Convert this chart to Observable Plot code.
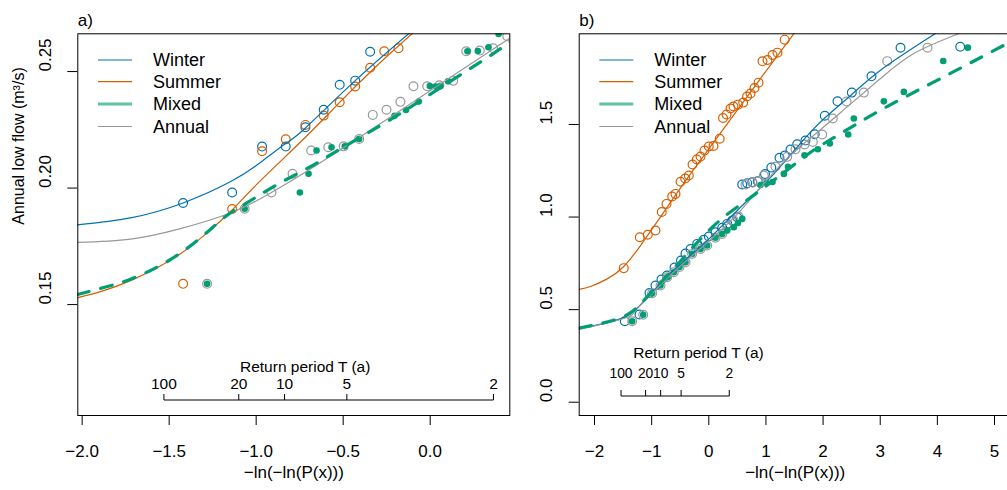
<!DOCTYPE html>
<html><head><meta charset="utf-8">
<script src="https://cdn.jsdelivr.net/npm/d3@7"></script>
<script src="https://cdn.jsdelivr.net/npm/@observablehq/plot@0.6"></script>
<style>
html,body{margin:0;padding:0;background:#fff;overflow:hidden;}
#wrap{position:relative;width:1007px;height:490px;overflow:hidden;background:#fff;}
#wrap svg{position:absolute;top:0;}
</style></head><body><div id="wrap"></div>
<script>
const FONT = '"Liberation Sans", Arial, Helvetica, sans-serif';
const COL = {Winter:"#0072B2", Summer:"#D55E00", Mixed:"#009E73", Annual:"#999999"};
const legendKeyMixed = "#5fc4a0";
const seriesNames = ["Winter","Summer","Mixed","Annual"];
const returnPeriods = [100, 20, 10, 5, 2];

// ---- Panel a: sample points ----
const aWinterX = [-1.420,-1.138,-0.966,-0.830,-0.717,-0.612,-0.520,-0.431,-0.345];
const aWinterY = [0.1936,0.1981,0.2178,0.2178,0.2261,0.2336,0.2443,0.2461,0.2585];
const aSummerX = [-1.420,-1.138,-0.966,-0.830,-0.717,-0.612,-0.520,-0.431,-0.345,-0.264,-0.182];
const aSummerY = [0.1589,0.1910,0.2158,0.2209,0.2271,0.2311,0.2368,0.2436,0.2516,0.2587,0.2600];
const aAnnualX = [-1.282,-1.066,-0.912,-0.791,-0.684,-0.586,-0.497,-0.408,-0.330,-0.251,-0.171,-0.096,-0.017,0.053,0.132,0.207,0.285,0.362,0.443];
const aAnnualY = [0.1589,0.1911,0.1981,0.2061,0.2161,0.2175,0.2179,0.2211,0.2314,0.2336,0.2370,0.2437,0.2437,0.2441,0.2460,0.2587,0.2590,0.2600,0.2652];
const aMixedX = [-1.282,-1.066,-0.749,-0.699,-0.653,-0.567,-0.491,-0.408,-0.205,-0.139,-0.066,-0.002,0.031,0.059,0.103,0.214,0.274,0.335,0.393];
const aMixedY = [0.1589,0.1911,0.1981,0.2061,0.2161,0.2175,0.2179,0.2211,0.2310,0.2335,0.2371,0.2438,0.2436,0.2439,0.2458,0.2587,0.2588,0.2604,0.2661];
// ---- Panel a: fitted curves ----
const aWinterFitX = [-2.027,-1.722,-1.420,-1.138,-0.966,-0.830,-0.717,-0.431,-0.113];
const aWinterFitY = [0.1842,0.1872,0.1936,0.2031,0.2115,0.2191,0.2258,0.2461,0.2669];
const aSummerFitX = [-2.029,-1.876,-1.722,-1.569,-1.435,-1.301,-1.138,-0.994,-0.717,-0.520,-0.305,-0.094];
const aSummerFitY = [0.1529,0.1560,0.1603,0.1658,0.1718,0.1796,0.1906,0.2018,0.2218,0.2368,0.2526,0.2669];
const aMixedFitX = [-2.027,-1.876,-1.722,-1.569,-1.435,-1.301,-1.176,-1.061,-0.889,-0.688,-0.498,-0.228,0.059,0.328,0.462];
const aMixedFitY = [0.1543,0.1573,0.1609,0.1661,0.1721,0.1798,0.1878,0.1933,0.2011,0.2092,0.2176,0.2294,0.2431,0.2560,0.2629];
const aAnnualFitX = [-2.027,-1.722,-1.435,-1.142,-0.912,-0.688,-0.408,-0.152,0.132,0.462];
const aAnnualFitY = [0.1767,0.1781,0.1826,0.1895,0.1981,0.2082,0.2217,0.2343,0.2483,0.2646];

// ---- Panel b: sample points ----
const bSummerX = [-1.488,-1.208,-1.068,-0.933,-0.823,-0.740,-0.641,-0.583,-0.495,-0.413,-0.350,-0.285,-0.210,-0.145,-0.075,0.000,0.082,0.191,0.249,0.310,0.380,0.432,0.511,0.602,0.669,0.730,0.800,0.870,0.940,1.027,1.115,1.202,1.328];
const bSummerY = [0.724,0.891,0.904,0.927,1.027,1.071,1.111,1.125,1.191,1.208,1.224,1.284,1.311,1.327,1.359,1.381,1.384,1.423,1.535,1.554,1.586,1.597,1.607,1.618,1.651,1.667,1.697,1.726,1.841,1.848,1.875,1.888,1.958];
const bWinterX = [-1.470,-1.213,-1.038,-0.933,-0.828,-0.732,-0.600,-0.487,-0.408,-0.320,-0.203,-0.088,0.000,0.117,0.235,0.322,0.410,0.497,0.585,0.672,0.760,0.856,0.984,1.094,1.237,1.330,1.430,1.547,1.692,1.853,2.030,2.252,2.503,2.847,3.355,4.400];
const bWinterY = [0.437,0.474,0.590,0.630,0.663,0.684,0.727,0.765,0.803,0.827,0.855,0.877,0.895,0.918,0.942,0.963,0.981,0.999,1.176,1.183,1.188,1.193,1.232,1.267,1.320,1.332,1.365,1.393,1.413,1.447,1.547,1.625,1.672,1.760,1.914,1.920];
const bAnnualX = [-1.341,-1.148,-0.991,-0.845,-0.728,-0.613,-0.513,-0.408,-0.291,-0.145,-0.028,0.117,0.235,0.322,0.438,0.520,0.642,0.765,0.870,0.963,1.167,1.372,1.517,1.675,1.820,1.985,2.170,2.410,2.713,3.122,3.827];
const bAnnualY = [0.437,0.472,0.589,0.630,0.675,0.702,0.730,0.756,0.801,0.828,0.846,0.888,0.909,0.949,0.981,1.003,1.176,1.186,1.192,1.224,1.273,1.325,1.366,1.392,1.406,1.446,1.532,1.624,1.672,1.842,1.914];
const bMixedX = [-1.341,-1.148,-0.991,-0.845,-0.728,-0.613,-0.513,-0.408,-0.291,-0.145,-0.028,0.117,0.235,0.322,0.438,0.511,0.585,0.905,1.010,1.115,1.313,1.386,1.675,1.908,2.118,2.440,2.538,3.063,3.413,4.102,4.533];
const bMixedY = [0.437,0.472,0.589,0.630,0.675,0.702,0.730,0.756,0.801,0.828,0.846,0.888,0.909,0.927,0.945,0.968,0.990,1.173,1.184,1.189,1.233,1.271,1.334,1.366,1.397,1.446,1.532,1.625,1.676,1.843,1.915];
// ---- Panel b: fitted curves ----
const bWinterFitX = [-2.268,-1.866,-1.488,-1.300,-1.078,-0.613,-0.028,0.555,1.138,1.838,2.422,3.005,3.967];
const bWinterFitY = [0.398,0.423,0.457,0.493,0.565,0.711,0.873,1.053,1.233,1.478,1.640,1.793,1.991];
const bSummerFitX = [-2.268,-2.070,-1.778,-1.488,-1.195,-0.903,-0.613,-0.320,0.235,0.905,1.517];
const bSummerFitY = [0.609,0.625,0.666,0.733,0.846,0.975,1.105,1.233,1.467,1.748,2.002];
const bMixedFitX = [-2.268,-1.488,-1.078,-0.613,0.060,0.642,1.080,1.460,1.838,2.275,3.005,3.967,5.228];
const bMixedFitY = [0.401,0.463,0.570,0.722,0.945,1.086,1.186,1.275,1.362,1.445,1.577,1.734,1.938];
const bAnnualFitX = [-2.268,-1.488,-1.300,-1.078,-0.613,-0.028,0.555,1.255,1.838,2.422,3.005,3.588,4.382];
const bAnnualFitY = [0.393,0.452,0.488,0.560,0.703,0.862,1.035,1.280,1.442,1.595,1.748,1.883,1.991];

const pts = (xs, ys) => xs.map((x, i) => ({x, y: ys[i]}));
const gumbel = T => -Math.log(-Math.log(1 / T));

function panel(cfg) {
  const s = cfg.series;
  const lineMarks = ["Winter","Summer","Annual"].map(k =>
    Plot.line(pts(s[k].fx, s[k].fy), {x:"x", y:"y", stroke: COL[k], strokeWidth: 1.2, curve:"natural", clip:true}));
  const mixedLine = Plot.line(pts(s.Mixed.fx, s.Mixed.fy), {x:"x", y:"y", stroke: COL.Mixed, strokeWidth: 3.2,
    strokeDasharray: "12,12", strokeLinecap: "round", curve:"natural", clip:true});
  const circleMarks = ["Winter","Summer","Annual"].map(k =>
    Plot.dot(pts(s[k].px, s[k].py), {x:"x", y:"y", r: 4.4, stroke: COL[k], strokeWidth: 1.2, fill:"none", clip:true}));
  const mixedDots = Plot.dot(pts(s.Mixed.px, s.Mixed.py), {x:"x", y:"y", r: 3.3, fill: COL.Mixed, stroke:"none", clip:true});

  const chart = Plot.plot({
    width: cfg.width, height: 490,
    marginLeft: cfg.ml, marginRight: cfg.mr, marginTop: 33.3, marginBottom: 75,
    x: {domain: cfg.xDomain}, y: {domain: cfg.yDomain},
    style: {fontFamily: FONT, fontSize: "17px", background: "white", color: "black", overflow: "visible"},
    marks: [
      Plot.axisX({ticks: cfg.xTicks, tickSize: 10, tickPadding: 19, tickFormat: cfg.xFmt, label: null, fontSize: 17}),
      Plot.axisY({ticks: cfg.yTicks, tickSize: 10, tickFormat: () => "", label: null}),
      Plot.text(cfg.yTicks, {y: d => d, frameAnchor: "left", dx: cfg.ytdx, rotate: -90, text: cfg.yFmt, fontSize: 17}),
      Plot.text(["\u2212ln(\u2212ln(P(x)))"], {frameAnchor: "bottom", dy: 62, fontSize: 17}),
      ...(cfg.ylab ? [Plot.text([cfg.ylab], {frameAnchor: "left", dx: -59, rotate: -90, fontSize: 16})] : []),
      Plot.text([cfg.tag], {frameAnchor: "top-left", dy: -20, textAnchor: "start", fontSize: 17}),
      ...circleMarks, mixedDots,
      ...lineMarks, mixedLine,
      Plot.frame({stroke: "black", strokeWidth: 1})
    ]
  });

  const svg = d3.select(chart);
  // return period axis, placed with the chart's own x scale
  const sx = chart.scale("x");
  const rx = returnPeriods.map(T => sx.apply(gumbel(T)));
  const g = svg.append("g").attr("font-family", FONT).attr("fill", "black");
  g.append("line").attr("x1", rx[0]).attr("x2", rx[rx.length - 1])
    .attr("y1", cfg.rpBase).attr("y2", cfg.rpBase).attr("stroke", "black");
  rx.forEach((x, i) => {
    g.append("line").attr("x1", x).attr("x2", x).attr("y1", cfg.rpBase).attr("y2", cfg.rpBase - 6).attr("stroke", "black");
    g.append("text").attr("x", x).attr("y", cfg.rpLab).attr("dy", "0.35em").attr("text-anchor", "middle")
      .attr("font-size", cfg.rpFont).text(returnPeriods[i]);
  });
  g.append("text").attr("x", cfg.rpTitleX).attr("y", cfg.rpTitleY).attr("dy", "0.35em")
    .attr("text-anchor", "start").attr("font-size", 15.5).text("Return period T (a)");

  // legend
  const lg = svg.append("g").attr("font-family", FONT);
  const rows = [60, 81.7, 104, 126.5];
  seriesNames.forEach((k, i) => {
    lg.append("line").attr("x1", cfg.legX).attr("x2", cfg.legX + 34).attr("y1", rows[i]).attr("y2", rows[i])
      .attr("stroke", k === "Mixed" ? legendKeyMixed : COL[k]).attr("stroke-width", k === "Mixed" ? 3 : 1.2);
    lg.append("text").attr("x", cfg.legX + 55).attr("y", rows[i]).attr("dy", "0.35em")
      .attr("text-anchor", "start").attr("font-size", 18).attr("fill", "black").text(k);
  });

  chart.style.left = cfg.left + "px";
  document.getElementById("wrap").appendChild(chart);
}

panel({
  left: 0, width: 520, ml: 77.3, mr: 10.7,
  xDomain: [-2.025, 0.4575], yDomain: [0.1024, 0.2662],
  xTicks: [-2, -1.5, -1, -0.5, 0], xFmt: d3.format(".1f"),
  yTicks: [0.15, 0.20, 0.25], yFmt: d3.format(".2f"), ytdx: -32.3,
  ylab: "Annual low flow (m\u00b3/s)", tag: "a)",
  rpBase: 400, rpLab: 384, rpTitleX: 240, rpTitleY: 367, rpFont: 15.5,
  legX: 98,
  series: {
    Winter: {px: aWinterX, py: aWinterY, fx: aWinterFitX, fy: aWinterFitY},
    Summer: {px: aSummerX, py: aSummerY, fx: aSummerFitX, fy: aSummerFitY},
    Mixed:  {px: aMixedX,  py: aMixedY,  fx: aMixedFitX,  fy: aMixedFitY},
    Annual: {px: aAnnualX, py: aAnnualY, fx: aAnnualFitX, fy: aAnnualFitY}
  }
});

panel({
  left: 520, width: 500, ml: 58.7, mr: 9.3,
  xDomain: [-2.268, 5.292], yDomain: [-0.0718, 1.9897],
  xTicks: [-2, -1, 0, 1, 2, 3, 4, 5], xFmt: d3.format("d"),
  yTicks: [0, 0.5, 1, 1.5], yFmt: d3.format(".1f"), ytdx: -32.7,
  ylab: null, tag: "b)",
  rpBase: 396, rpLab: 373.3, rpTitleX: 113.3, rpTitleY: 352.7, rpFont: 13.8,
  legX: 79.3,
  series: {
    Winter: {px: bWinterX, py: bWinterY, fx: bWinterFitX, fy: bWinterFitY},
    Summer: {px: bSummerX, py: bSummerY, fx: bSummerFitX, fy: bSummerFitY},
    Mixed:  {px: bMixedX,  py: bMixedY,  fx: bMixedFitX,  fy: bMixedFitY},
    Annual: {px: bAnnualX, py: bAnnualY, fx: bAnnualFitX, fy: bAnnualFitY}
  }
});
</script></body></html>
